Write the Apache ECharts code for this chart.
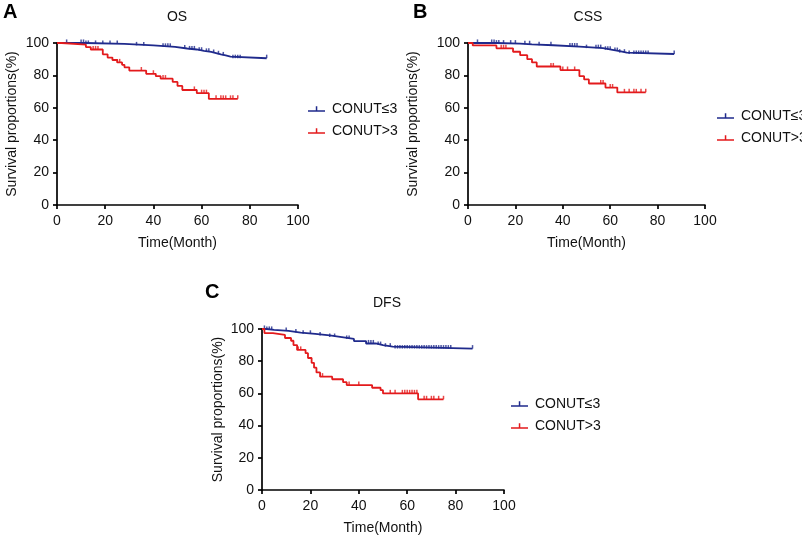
<!DOCTYPE html>
<html><head><meta charset="utf-8">
<script src="https://cdn.jsdelivr.net/npm/echarts@6/dist/echarts.min.js"></script>
<style>html,body{margin:0;padding:0;background:#fff}#c{width:802px;height:540px}</style>
</head><body><div id="c"></div>
<script>
// Axis ticks
const xTicks = [0, 20, 40, 60, 80, 100];
const yTicks = [0, 20, 40, 60, 80, 100];
const groupNames = ['CONUT\u22643', 'CONUT>3'];
const panelTitles = ['OS', 'CSS', 'DFS'];
const panelLetters = ['A', 'B', 'C'];

// OS - CONUT<=3 : event times and survival after event
const osLowT = [0, 12, 28, 40, 49, 54, 58, 61, 64, 66, 68, 70, 72, 87];
const osLowS = [100, 99.4, 98.5, 97.6, 96.6, 96, 95.2, 94.5, 93.8, 93, 92.3, 91.6, 90.6, 90.6];
const osLowCens = [4, 10, 11, 12, 13, 16, 19, 22, 25, 33, 36, 44, 45, 46, 47, 53, 55, 56, 57, 59, 60, 62, 63, 65, 67, 69, 73, 74, 75, 76, 87];
// OS - CONUT>3
const osHighT = [0, 2, 12, 14, 19, 21, 23, 25, 27, 28, 30, 37, 41, 43, 48, 50, 52, 58, 63, 75];
const osHighS = [100, 99, 97.5, 96, 93, 91, 89.5, 88, 86.5, 85, 83, 81, 79.5, 78, 76, 73.5, 71, 69, 65.5, 65.5];
const osHighCens = [15, 16, 17, 25, 26, 35, 40, 44, 45, 57, 60, 61, 62, 66, 68, 69, 70, 72, 73, 75];

// CSS - CONUT<=3
const cssLowT = [0, 12, 22, 27, 36, 47, 57, 61, 64, 67, 87];
const cssLowS = [100, 99.6, 99.2, 98.6, 97.8, 96.8, 95.8, 95, 94, 93.2, 93.2];
const cssLowCens = [4, 10, 11, 12, 13, 15, 18, 20, 24, 26, 30, 35, 43, 44, 45, 46, 50, 54, 55, 56, 58, 59, 60, 62, 63, 64, 66, 68, 70, 71, 72, 73, 74, 75, 76, 87];
// CSS - CONUT>3
const cssHighT = [0, 2, 12, 19, 22, 25, 27, 29, 39, 47, 49, 51, 58, 63, 75];
const cssHighS = [100, 98.5, 96.7, 94.6, 92.5, 90, 88, 85.5, 83.3, 79.5, 77.5, 75, 72.5, 69.5, 69.5];
const cssHighCens = [14, 15, 16, 35, 36, 40, 42, 45, 56, 57, 60, 61, 66, 68, 70, 71, 73, 75];

// DFS - CONUT<=3
const dfsLowT = [0, 2, 5, 11, 16, 22, 28, 33, 38, 43, 47, 50, 54, 87];
const dfsLowS = [100, 99.4, 98.8, 97.8, 97, 96, 95, 93.8, 92.5, 91, 90, 89, 87.8, 87.8];
const dfsLowCens = [1, 2, 3, 4, 10, 14, 17, 20, 24, 28, 30, 35, 36, 44, 45, 46, 48, 49, 51, 53, 55, 56, 57, 58, 59, 60, 61, 62, 63, 64, 65, 66, 67, 68, 69, 70, 71, 72, 73, 74, 75, 76, 77, 78, 87];
// DFS - CONUT>3
const dfsHighT = [0, 1, 4.5, 9.5, 12, 13, 14.5, 18, 19, 20.5, 21.5, 22.5, 24, 29, 33.5, 35, 45.5, 49, 50, 64.5, 75];
const dfsHighS = [100, 97.5, 96.3, 94.4, 92.7, 90, 87, 85, 82, 79, 76, 73, 70.4, 68.8, 67, 65.2, 63.5, 62, 60, 56.3, 56.3];
const dfsHighCens = [15, 16, 25, 36, 40, 53, 55, 58, 59, 60, 61, 62, 63, 64, 67, 68, 70, 71, 73, 75];

const BLUE = '#1f2a8c', RED = '#e31a1c';
const FONT = 'Liberation Sans, Arial, sans-serif';

const panels = [
  {low: [osLowT, osLowS, osLowCens], high: [osHighT, osHighS, osHighCens]},
  {low: [cssLowT, cssLowS, cssLowCens], high: [cssHighT, cssHighS, cssHighCens]},
  {low: [dfsLowT, dfsLowS, dfsLowCens], high: [dfsHighT, dfsHighS, dfsHighCens]}
];

const grids = [
  {left: 57, top: 43, width: 241, height: 162},
  {left: 468, top: 43, width: 237, height: 162},
  {left: 262, top: 329, width: 242, height: 161}
];
const yNameGaps = [38, 48, 37];
const legendPos = [{left: 303, top: 97}, {left: 712, top: 104}, {left: 506, top: 392}];

function stepVal(ts, ss, t) {
  let v = ss[0];
  for (let i = 0; i < ts.length; i++) { if (ts[i] <= t) v = ss[i]; }
  return v;
}

const xAxes = [], yAxes = [], series = [], legends = [];
const axisLineStyle = {color: '#000', width: 1.7};
panels.forEach((p, i) => {
  xAxes.push({
    gridIndex: i, type: 'value', min: 0, max: 100, interval: 20,
    name: 'Time(Month)', nameLocation: 'middle', nameGap: 31,
    nameTextStyle: {fontFamily: FONT, fontSize: 14, color: '#111'},
    axisLine: {show: true, lineStyle: axisLineStyle},
    axisTick: {show: true, length: 4, lineStyle: axisLineStyle},
    axisLabel: {fontFamily: FONT, fontSize: 14, color: '#111', margin: 9,
      formatter: v => xTicks.indexOf(v) >= 0 ? String(v) : ''},
    splitLine: {show: false}
  });
  yAxes.push({
    gridIndex: i, type: 'value', min: 0, max: 100, interval: 20,
    name: 'Survival proportions(%)', nameLocation: 'middle', nameGap: yNameGaps[i], nameRotate: 90,
    nameTextStyle: {fontFamily: FONT, fontSize: 14, color: '#111'},
    axisLine: {show: true, lineStyle: axisLineStyle},
    axisTick: {show: true, length: 4, lineStyle: axisLineStyle},
    axisLabel: {fontFamily: FONT, fontSize: 14, color: '#111', margin: 8,
      formatter: v => yTicks.indexOf(v) >= 0 ? String(v) : ''},
    splitLine: {show: false}
  });
  [['low', BLUE, groupNames[0]], ['high', RED, groupNames[1]]].forEach(([k, col, nm]) => {
    const [ts, ss, cens] = p[k];
    series.push({
      name: nm, type: 'line', xAxisIndex: i, yAxisIndex: i, step: 'end',
      showSymbol: false, symbol: 'none', silent: true,
      lineStyle: {color: col, width: 1.8}, itemStyle: {color: col},
      data: ts.map((t, j) => [t, ss[j]])
    });
    series.push({
      name: nm + ' censored', type: 'scatter', xAxisIndex: i, yAxisIndex: i, silent: true,
      symbol: 'rect', symbolSize: [1.5, 3.5], symbolOffset: [0, -1.8],
      itemStyle: {color: col},
      data: cens.map(t => [t, stepVal(ts, ss, t)])
    });
  });
  legends.push({
    orient: 'vertical', left: legendPos[i].left, top: legendPos[i].top,
    itemWidth: 17, itemHeight: 7, itemGap: 8, selectedMode: false,
    textStyle: {fontFamily: FONT, fontSize: 14, color: '#111', padding: [0, 0, 0, 2]},
    data: [
      {name: groupNames[0], icon: 'path://M0,5L17,5L17,6.6L0,6.6ZM7.8,1L9.3,1L9.3,5L7.8,5Z', itemStyle: {color: BLUE}},
      {name: groupNames[1], icon: 'path://M0,5L17,5L17,6.6L0,6.6ZM7.8,1L9.3,1L9.3,5L7.8,5Z', itemStyle: {color: RED}}
    ]
  });
});

const titlePos = [[177, 17], [588, 17], [387, 303]];
const letterPos = [[3, 12], [413, 12], [205, 292]];
const graphic = [];
panelTitles.forEach((t, i) => {
  graphic.push({type: 'text', x: titlePos[i][0], y: titlePos[i][1],
    style: {text: t, font: '14px ' + FONT, fill: '#111', textAlign: 'center', textVerticalAlign: 'middle'}});
  graphic.push({type: 'text', x: letterPos[i][0], y: letterPos[i][1],
    style: {text: panelLetters[i], font: 'bold 20px ' + FONT, fill: '#000', textAlign: 'left', textVerticalAlign: 'middle'}});
});

const chart = echarts.init(document.getElementById('c'));
chart.setOption({
  animation: false,
  backgroundColor: '#fff',
  grid: grids.map(g => Object.assign({containLabel: false}, g)),
  xAxis: xAxes, yAxis: yAxes, series, legend: legends, graphic
});
</script></body></html>
